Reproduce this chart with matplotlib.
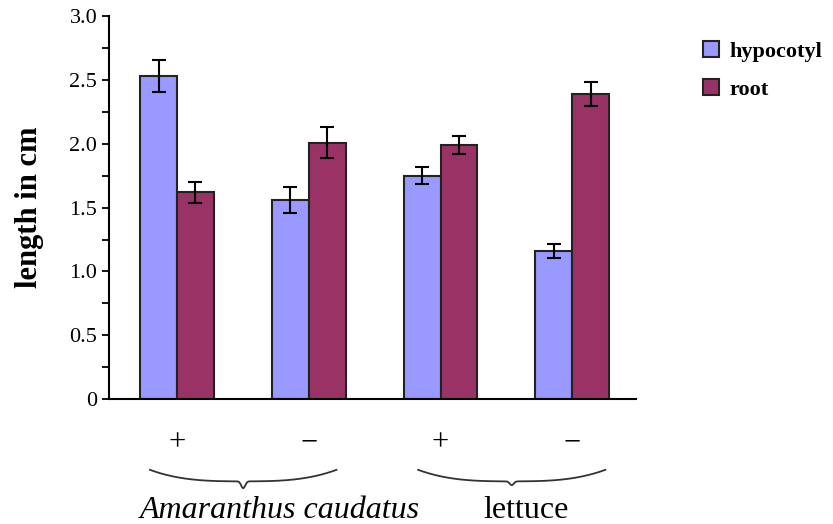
import numpy as np
import matplotlib
matplotlib.use('Agg')
import matplotlib.pyplot as plt
from matplotlib.patches import Patch
import matplotlib.transforms as mtransforms

plt.rcParams['font.family'] = ['Liberation Serif', 'DejaVu Serif']

# data
treatments = ['+', '\u2212', '+', '\u2212']
hypocotyl = [2.53, 1.56, 1.75, 1.16]
hypocotyl_err = [0.125, 0.10, 0.065, 0.055]
root = [1.62, 2.01, 1.99, 2.39]
root_err = [0.08, 0.12, 0.07, 0.095]
species = ['Amaranthus caudatus', 'lettuce']

col_hyp = '#9999FF'
col_root = '#993366'

fig = plt.figure(figsize=(8.33, 5.24), dpi=100)
ax = fig.add_axes([0.131, 0.2385, 0.632, 0.7305])

x = np.arange(len(treatments))
w = 0.28
ax.bar(x - w/2, hypocotyl, w, color=col_hyp, edgecolor='#222222', linewidth=1.5,
       yerr=hypocotyl_err, error_kw=dict(ecolor='black', elinewidth=1.5, capsize=5, capthick=1.5))
ax.bar(x + w/2, root, w, color=col_root, edgecolor='#222222', linewidth=1.5,
       yerr=root_err, error_kw=dict(ecolor='black', elinewidth=1.5, capsize=5, capthick=1.5))

ax.set_xlim(-0.515, 3.48)
ax.set_ylim(0, 3.0)
ax.set_xticks([])
ax.set_yticks([0, 0.5, 1.0, 1.5, 2.0, 2.5, 3.0])
ax.set_yticklabels(['0', '0.5', '1.0', '1.5', '2.0', '2.5', '3.0'])
ax.set_yticks(np.arange(0.25, 3.0, 0.5), minor=True)
ax.tick_params(axis='y', which='both', direction='out', length=5, width=1.3, labelsize=16)
for s in ['top', 'right']:
    ax.spines[s].set_visible(False)
for s in ['left', 'bottom']:
    ax.spines[s].set_linewidth(1.5)

ax.set_ylabel('length in cm', fontsize=22, fontweight='bold', labelpad=18)

trans = mtransforms.blended_transform_factory(ax.transData, ax.transAxes)

# + / - labels under the groups
for xi, t in zip(x, treatments):
    ax.text(xi, -0.115, t, transform=trans, ha='center', va='center', fontsize=22, clip_on=False)

# braces
def brace(x0, x1, y, h, dip):
    t = np.linspace(0, 1, 400)
    xs = x0 + (x1 - x0) * t
    u = np.abs(2 * t - 1)
    ys = y + h * u**3 - dip * np.exp(-((t - 0.5) / 0.015)**2)
    ax.plot(xs, ys, transform=trans, color='#333333', lw=1.3, clip_on=False)

brace(-0.205, 1.21, -0.215, 0.03, 0.018)
brace(1.83, 3.25, -0.215, 0.03, 0.010)

ax.text(0.78, -0.29, species[0], transform=trans, ha='center', va='center',
        fontsize=23, style='italic', clip_on=False)
ax.text(2.65, -0.29, species[1], transform=trans, ha='center', va='center',
        fontsize=23, clip_on=False)

handles = [Patch(facecolor=col_hyp, edgecolor='#222222', linewidth=1.5, label='hypocotyl'),
           Patch(facecolor=col_root, edgecolor='#222222', linewidth=1.5, label='root')]
fig.legend(handles=handles, loc='upper left', bbox_to_anchor=(0.82, 0.96), frameon=False,
           prop=dict(size=16, weight='bold'), handlelength=0.7, handleheight=0.7,
           handletextpad=0.5, labelspacing=0.8)

fig.savefig('out.png', dpi=100)
